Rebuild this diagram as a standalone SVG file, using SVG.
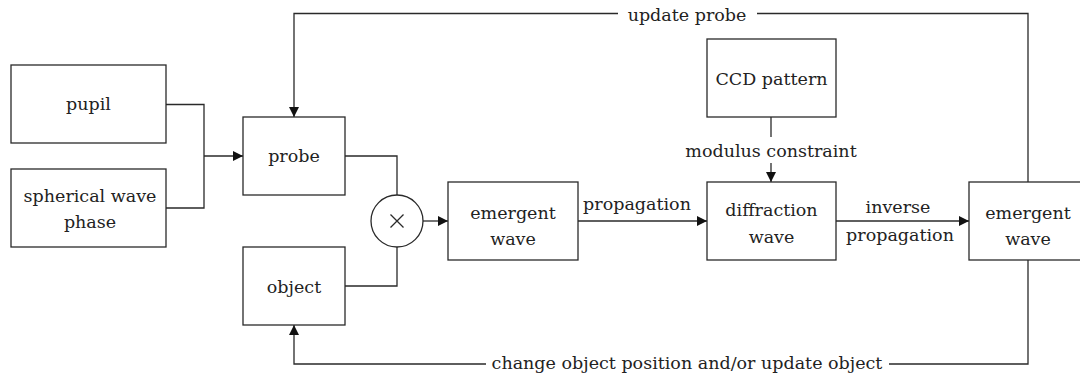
<svg xmlns="http://www.w3.org/2000/svg" width="1080" height="374" viewBox="0 0 1080 374">
<style>
.box{fill:#fff;stroke:#2a2a2a;stroke-width:1.3}
.ln{fill:none;stroke:#2a2a2a;stroke-width:1.3}
text{font-family:"DejaVu Serif","Liberation Serif",serif;font-size:17.5px;fill:#222;text-anchor:middle}
</style>
<defs>
<marker id="ah" markerUnits="userSpaceOnUse" markerWidth="10" markerHeight="10" refX="10" refY="5" orient="auto">
<path d="M0,0 L10,5 L0,10 z" fill="#111"/>
</marker>
</defs>
<rect width="1080" height="374" fill="#fff"/>
<g id="connectors">
<path class="ln" d="M166,104.5 H204 V208 H166"/>
<path class="ln" d="M204,156 H243" marker-end="url(#ah)"/>
<path class="ln" d="M345,156 H397 V195"/>
<path class="ln" d="M345,286 H397 V247"/>
<path class="ln" d="M423,221 H448" marker-end="url(#ah)"/>
<path class="ln" d="M578,221 H707" marker-end="url(#ah)"/>
<path class="ln" d="M771,117 V137"/>
<path class="ln" d="M771,163 V182" marker-end="url(#ah)"/>
<path class="ln" d="M836,221 H969" marker-end="url(#ah)"/>
<path class="ln" d="M1028,182 V13.5 H757"/>
<path class="ln" d="M618,13.5 H294 V117" marker-end="url(#ah)"/>
<path class="ln" d="M1028,260 V364 H889"/>
<path class="ln" d="M486,364 H294 V325" marker-end="url(#ah)"/>
<text x="637" y="210">propagation</text>
<text x="771" y="157">modulus constraint</text>
<text x="898" y="213">inverse</text>
<text x="900" y="241">propagation</text>
<text x="687" y="20.5">update probe</text>
<text x="687" y="369">change object position and/or update object</text>
</g>
<g id="pupil"><rect class="box" x="11" y="65" width="155" height="78"/><text x="88.5" y="110">pupil</text></g>
<g id="spherical"><rect class="box" x="11" y="169" width="155" height="78"/><text x="90" y="202">spherical wave</text><text x="90" y="228">phase</text></g>
<g id="probe"><rect class="box" x="243" y="117" width="102" height="78"/><text x="294" y="162">probe</text></g>
<g id="object"><rect class="box" x="243" y="247" width="102" height="78"/><text x="294" y="293">object</text></g>
<g id="multiply"><circle class="box" cx="397" cy="221" r="26"/><path class="ln" d="M390.5,214.5 L403.5,227.5 M403.5,214.5 L390.5,227.5" stroke-width="1"/></g>
<g id="emergent1"><rect class="box" x="448" y="182" width="130" height="78"/><text x="513" y="219">emergent</text><text x="513" y="245">wave</text></g>
<g id="ccd"><rect class="box" x="707" y="39" width="129" height="78"/><text x="771.5" y="85">CCD pattern</text></g>
<g id="diffraction"><rect class="box" x="707" y="182" width="129" height="78"/><text x="771.5" y="216">diffraction</text><text x="771.5" y="243">wave</text></g>
<g id="emergent2"><rect class="box" x="969" y="182" width="120" height="78"/><text x="1028" y="219">emergent</text><text x="1028" y="245">wave</text></g>
</svg>
